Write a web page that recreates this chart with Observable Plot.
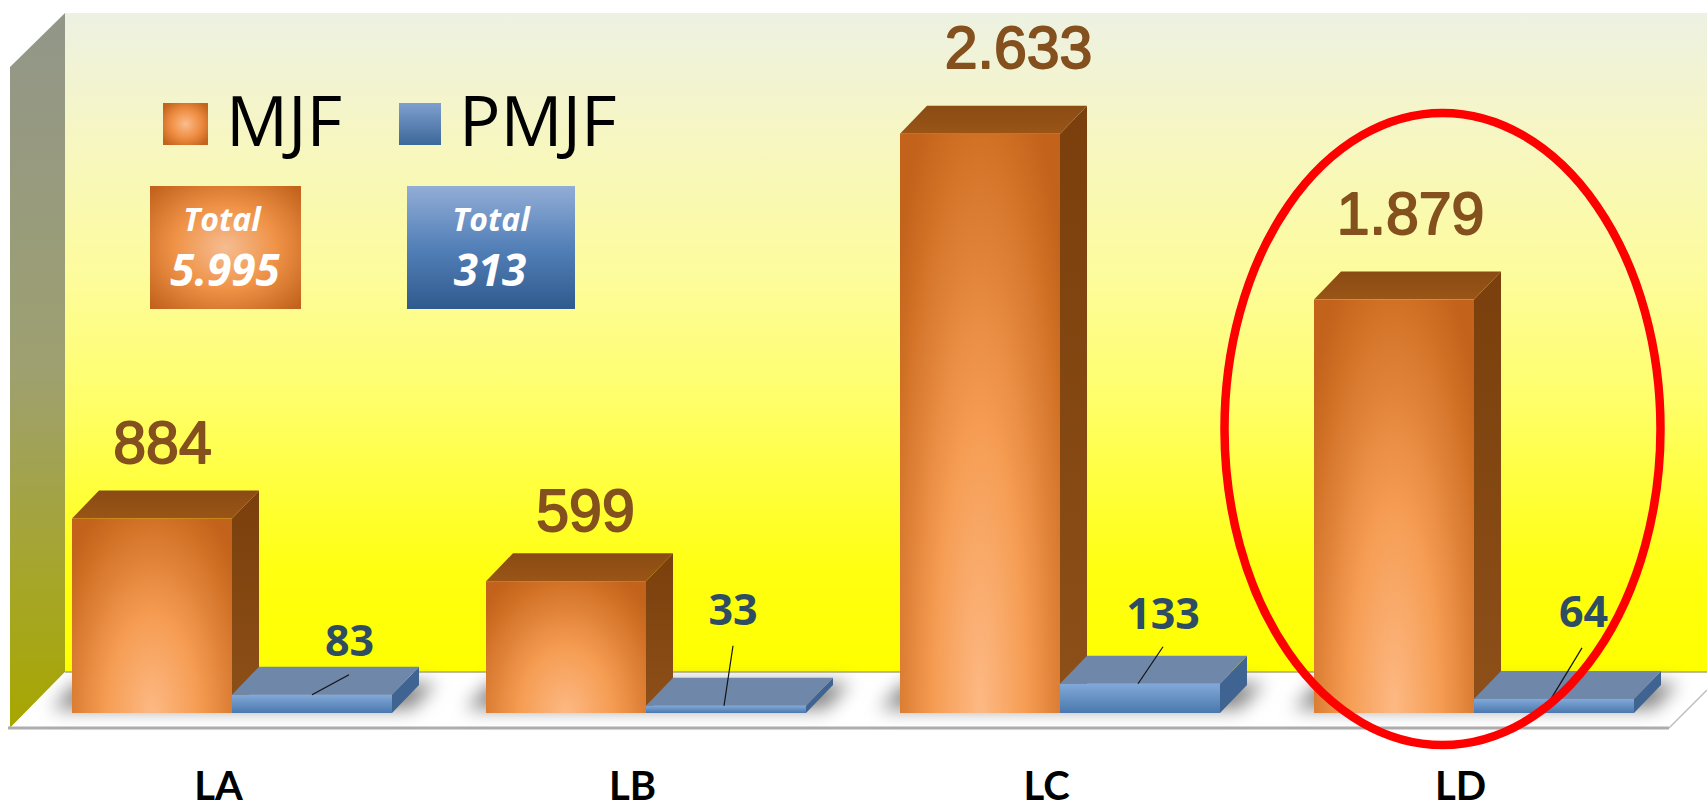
<!DOCTYPE html>
<html>
<head>
<meta charset="utf-8">
<style>html,body{margin:0;padding:0;background:#fff}svg{display:block}</style>
<script src="https://cdn.jsdelivr.net/npm/d3@7"></script>
<script src="https://cdn.jsdelivr.net/npm/@observablehq/plot@0.6"></script>
</head>
<body>
<div id="chart"></div>
<script>
// ---- data ----
const zones = ["LA", "LB", "LC", "LD"];
const seriesNames = ["MJF", "PMJF"];
const mjfValues = [884, 599, 2633, 1879];
const pmjfValues = [83, 33, 133, 64];
const totals = [5995, 313];
const totalWord = "Total";

// ---- label placement (px relative to each bar), kept apart from the data ----
const mjfLabelNudge = {LA:[10,56], LB:[19,51], LC:[38,66], LD:[16,66]};
const pmjfLabelNudge = {LA:[37,39], LB:[6.5,81], LC:[22.5,55], LD:[29,72]};
const leaderShape = {LA:[80,117,20], LB:[78,87,60], LC:[78,103,37], LD:[77,108,51]};
const DEPTH_X = 27, DEPTH_Y = 28;

const fmt = d3.formatLocale({decimal:",", thousands:".", grouping:[3], currency:["",""]}).format(",d");
const mjfRows = zones.map((z,i)=>({zone:z, series:"MJF", value:mjfValues[i]}));
const pmjfRows = zones.map((z,i)=>({zone:z, series:"PMJF", value:pmjfValues[i]}));

// A bar-shaped mark that paints one of the extruded faces, positioned by the scales.
function faces(rows, kind, fill) {
  return Plot.barY(rows, {
    fx:"zone", x:"series", y:"value",
    render(index, scales) {
      const g = d3.create("svg:g");
      const w = scales.x.bandwidth();
      const y0 = scales.y(0);
      for (const i of index) {
        const r = rows[i], x1 = scales.x(r.series), x2 = x1 + w, yt = scales.y(r.value);
        const dx = DEPTH_X, dy = DEPTH_Y;
        const pts = kind === "top"
          ? [[x1,yt],[x1+dx,yt-dy],[x2+dx,yt-dy],[x2,yt]]
          : [[x2,yt],[x2+dx,yt-dy],[x2+dx,y0-dy],[x2,y0]];
        g.append("polygon").attr("points", pts.join(" ")).attr("fill", fill);
      }
      return g.node();
    }
  });
}
function shadows(rows) {
  return Plot.barY(rows, {
    fx:"zone", x:"series", y:"value",
    render(index, scales) {
      const g = d3.create("svg:g").style("filter","blur(9px)");
      const w = scales.x.bandwidth();
      const y0 = scales.y(0);
      for (const i of index) {
        const x1 = scales.x(rows[i].series), x2 = x1 + 2*w;
        g.append("polygon")
          .attr("points", [[x1-20,y0-4],[x1+4,y0-30],[x2+44,y0-30],[x2+20,y0-4]].join(" "))
          .attr("fill","#858585");
      }
      return g.node();
    }
  });
}
function leaders(rows) {
  return Plot.barY(rows, {
    fx:"zone", x:"series", y:"value",
    render(index, scales) {
      const g = d3.create("svg:g");
      for (const i of index) {
        const r = rows[i], s = leaderShape[r.zone], x = scales.x(r.series), y = scales.y(r.value);
        g.append("line").attr("x1",x+s[0]).attr("x2",x+s[1]).attr("y1",y).attr("y2",y-s[2])
          .attr("stroke","#111").attr("stroke-width",1.2);
      }
      return g.node();
    }
  });
}
const valueLabels = (rows, nudge, opts) => rows.map(r => Plot.text([r], {
  fx:"zone", x:"series", y:"value", text:d=>fmt(d.value),
  lineAnchor:"bottom", dx:nudge[r.zone][0], dy:-nudge[r.zone][1], ...opts
}));

const chart = Plot.plot({
  width:1707, height:808,
  marginLeft:71, marginRight:71, marginTop:53, marginBottom:95,
  style:{background:"transparent", overflow:"visible"},
  fx:{domain:zones, paddingInner:0.226, paddingOuter:0, axis:null, label:null},
  x:{domain:seriesNames, padding:0, axis:null},
  y:{domain:[0,3000], axis:null},
  marks:[
    shadows(mjfRows),
    faces(mjfRows,"side","url(#oSide)"),
    faces(mjfRows,"top","url(#oTop)"),
    Plot.barY(mjfRows,{fx:"zone",x:"series",y:"value",fill:"url(#oFront)"}),
    faces(pmjfRows,"side","#3f6491"),
    faces(pmjfRows,"top","#6f87a9"),
    Plot.barY(pmjfRows,{fx:"zone",x:"series",y:"value",fill:"url(#bFront)"}),
    leaders(pmjfRows),
    ...valueLabels(mjfRows, mjfLabelNudge, {fontFamily:"Liberation Sans",fontWeight:"normal",fontSize:59,fill:"#84501e",stroke:"#84501e",strokeWidth:1.8,style:"letter-spacing:2px"}),
    ...valueLabels(pmjfRows, pmjfLabelNudge, {fontFamily:"Open Sans",fontWeight:"bold",fontSize:43,fill:"#2e4d62"}),
    Plot.axisFx({anchor:"bottom",label:null,tickSize:0,tickPadding:58,dx:-14,
      fontSize:40,fontWeight:"bold",fontFamily:"Lato",fill:"#000"})
  ]
});
document.getElementById("chart").append(chart);

// ---- scenery, legend and annotation, tied to the plot's own scales ----
const svg = d3.select(chart);
const fxS = chart.scale("fx"), yS = chart.scale("y");
const floorBack = yS.apply(0) - 41, floorFront = yS.apply(0) + 15;

const defs = svg.insert("defs", ":first-child");
function linear(id, stops, horiz) {
  const g = defs.append("linearGradient").attr("id",id).attr("x1",0).attr("y1",0)
    .attr("x2",horiz?1:0).attr("y2",horiz?0:1);
  stops.forEach(([o,c])=>g.append("stop").attr("offset",o).attr("stop-color",c));
}
function radial(id, cx, cy, r, stops, transform) {
  const g = defs.append("radialGradient").attr("id",id).attr("cx",cx).attr("cy",cy).attr("r",r);
  if (transform) g.attr("gradientTransform",transform);
  stops.forEach(([o,c])=>g.append("stop").attr("offset",o).attr("stop-color",c));
}
linear("wall",[[0,"#edf1e2"],[0.18,"#f6f6c4"],[0.4,"#fdfc9c"],[0.6,"#ffff66"],[0.85,"#ffff10"],[1,"#ffff00"]]);
linear("sideWall",[[0,"#929689"],[0.5,"#9ea070"],[0.8,"#a6a628"],[1,"#a8a600"]]);
linear("oSide",[[0,"#7a3f0c"],[1,"#8e5019"]]);
linear("oTop",[[0,"#8a4b14"],[1,"#9a5516"]]);
linear("bFront",[[0,"#82a9d8"],[1,"#4a78ae"]]);
linear("bSwatch",[[0,"#7ea0cf"],[1,"#3c6799"]]);
linear("bTotal",[[0,"#92add6"],[0.5,"#5380b8"],[1,"#2f5a8e"]]);
radial("oFront",0.5,1,1,[[0,"#fdb984"],[0.42,"#f59c52"],[0.85,"#cf6f24"],[1,"#c2621b"]],
  "translate(0.5 1) scale(0.7 1.2) translate(-0.5 -1)");
radial("oSwatch","50%","50%","62%",[[0,"#fbbc8c"],[0.55,"#ee8d42"],[1,"#c4641c"]]);
radial("oTotal","50%","50%","68%",[[0,"#f5bd92"],[0.5,"#ef9246"],[1,"#c2621c"]]);

const sceneG = svg.insert("g", "defs + *").attr("aria-label","scenery");
sceneG.append("rect").attr("x",65).attr("y",13).attr("width",1642).attr("height",floorBack-13).attr("fill","url(#wall)");
sceneG.append("polygon").attr("points",[[10,67],[65,13],[65,floorBack],[10,floorFront]].join(" ")).attr("fill","url(#sideWall)");
sceneG.append("polygon").attr("points",[[10,floorFront],[65,floorBack],[1707,floorBack],[1707,floorFront-38],[1669,floorFront]].join(" "))
  .attr("fill","#fff");
sceneG.append("line").attr("x1",65).attr("x2",1707).attr("y1",floorBack).attr("y2",floorBack).attr("stroke","#a9a97a").attr("stroke-width",1.5);
sceneG.append("line").attr("x1",8).attr("x2",1669).attr("y1",floorFront).attr("y2",floorFront).attr("stroke","#adadad").attr("stroke-width",3);
sceneG.append("line").attr("x1",1669).attr("x2",1707).attr("y1",floorFront).attr("y2",floorFront-38).attr("stroke","#bdbdbd").attr("stroke-width",1.5);

const legendG = svg.append("g").attr("aria-label","legend").attr("text-anchor","start");
const addText = (x,y,t,size,font,weight,fill,extra={}) => {
  const n = legendG.append("text").attr("x",x).attr("y",y).text(t).attr("font-size",size)
    .attr("font-family",font).attr("font-weight",weight).attr("fill",fill);
  Object.entries(extra).forEach(([k,v])=>n.attr(k,v));
  return n;
};
legendG.append("rect").attr("x",163).attr("y",103).attr("width",45).attr("height",42).attr("fill","url(#oSwatch)");
addText(226,146,seriesNames[0],69,"Open Sans",400,"#000",{"text-anchor":"start"});
legendG.append("rect").attr("x",399).attr("y",103).attr("width",42).attr("height",42).attr("fill","url(#bSwatch)");
addText(459,146,seriesNames[1],69,"Open Sans",400,"#000",{"text-anchor":"start"});
legendG.append("rect").attr("x",150).attr("y",186).attr("width",151).attr("height",123).attr("fill","url(#oTotal)");
legendG.append("rect").attr("x",407).attr("y",186).attr("width",168).attr("height",123).attr("fill","url(#bTotal)");
const totalOpts = {"text-anchor":"middle","font-style":"italic"};
addText(222,231,totalWord,32,"Open Sans",700,"#fff",totalOpts);
addText(225,286,fmt(totals[0]),44,"Open Sans",700,"#fff",totalOpts);
addText(491,231,totalWord,32,"Open Sans",700,"#fff",totalOpts);
addText(490,286,fmt(totals[1]),44,"Open Sans",700,"#fff",totalOpts);

// highlight around the last zone
const ldLeft = fxS.apply("LD");
svg.append("ellipse").attr("cx",ldLeft+128.5).attr("cy",429).attr("rx",218).attr("ry",316)
  .attr("fill","none").attr("stroke","#fe0000").attr("stroke-width",8.5);
</script>
</body>
</html>
